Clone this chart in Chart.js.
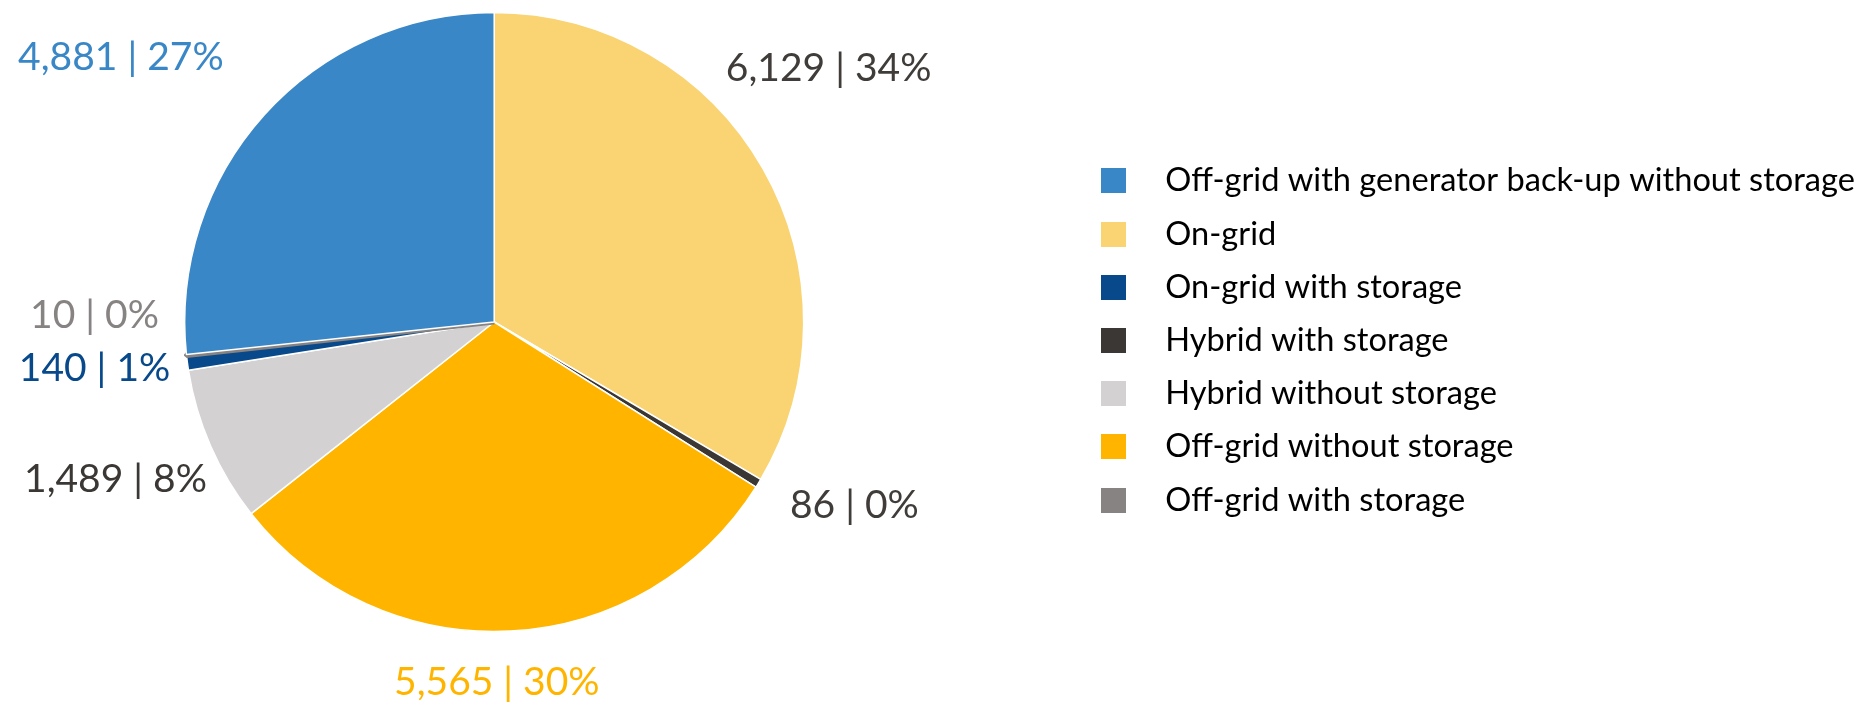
<!DOCTYPE html>
<html>
<head>
<meta charset="utf-8">
<script src="https://cdn.jsdelivr.net/npm/chart.js@4.4.1/dist/chart.umd.min.js"></script>
<style>
  html, body { margin:0; padding:0; background:#fff; width:1872px; height:704px; overflow:hidden; }
  #wrap { position:absolute; left:-100px; top:0; width:2000px; height:704px; }
</style>
</head>
<body>
<div id="wrap"><canvas id="chartPie"></canvas></div>
<script>
// slices in drawing order, clockwise from 12 o'clock
const LABELS = [
  "On-grid",
  "Hybrid with storage",
  "Off-grid without storage",
  "Hybrid without storage",
  "On-grid with storage",
  "Off-grid with storage",
  "Off-grid with generator back-up without storage"
];
const VALUES = [6129, 86, 5565, 1489, 140, 10, 4881];
const PERCENTS = [34, 0, 30, 8, 1, 0, 27];   // as printed on the chart

const LEGEND_ORDER = [
  "Off-grid with generator back-up without storage",
  "On-grid",
  "On-grid with storage",
  "Hybrid with storage",
  "Hybrid without storage",
  "Off-grid without storage",
  "Off-grid with storage"
];

const COLORS = ["#FAD473", "#3B3735", "#FFB500", "#D3D1D2", "#07498A", "#868382", "#3A87C7"];
const LABEL_COLORS = ["#403C39", "#403C39", "#FFB500", "#3B3735", "#07498A", "#868382", "#3A87C7"];
// the tiny grey slice keeps a stroke in its own colour so it stays visible
const TOTAL = VALUES.reduce((s,v)=>s+v,0);
const BORDER_COLORS = COLORS.map((c, i) => VALUES[i] / TOTAL < 0.002 ? c : "#ffffff");
const BORDER_WIDTHS = COLORS.map((c, i) => VALUES[i] / TOTAL < 0.002 ? 5 : 1.5);

const LEGEND_FONT = 32.6;
const SWATCH_W = 48;
const LEGEND_X = 1201;      // left edge of legend swatches, canvas px
const CANVAS_W = 2000;

function swatch(color){
  const c = document.createElement("canvas");
  c.width = SWATCH_W; c.height = 25;
  const g = c.getContext("2d");
  g.fillStyle = color;
  g.fillRect(0, 0, 25, 25);
  return c;
}

// right padding so the legend starts where the reference has it
function legendRightPad(){
  const g = document.createElement("canvas").getContext("2d");
  g.font = `${LEGEND_FONT}px Lato`;
  const tw = Math.max(...LEGEND_ORDER.map(t => g.measureText(t).width));
  const legendW = 23 + SWATCH_W + LEGEND_FONT/2 + tw + 10;
  return CANVAS_W - (LEGEND_X - 23) - legendW;
}

// value | percent labels outside each slice
const sliceLabels = {
  id: "sliceLabels",
  afterDatasetsDraw(chart, args, opts){
    const ctx = chart.ctx;
    const meta = chart.getDatasetMeta(0);
    ctx.save();
    ctx.font = `${opts.size}px Lato`;
    ctx.textAlign = "center";
    ctx.textBaseline = "alphabetic";
    meta.data.forEach((arc, i) => {
      const p = arc.getProps(["x","y","startAngle","endAngle","outerRadius"], true);
      const mid = (p.startAngle + p.endAngle) / 2, c = Math.cos(mid), s = Math.sin(mid);
      const txt = VALUES[i].toLocaleString("en-US") + " | " + PERCENTS[i] + "%";
      const w = ctx.measureText(txt).width, h = opts.size * 0.72;
      const d = p.outerRadius + opts.gap;
      const n = opts.nudge[i] || [0, 0];
      const cx = p.x + d*c + w/2*c + n[0];
      const cy = p.y + d*s + h/2*s + n[1];
      ctx.fillStyle = LABEL_COLORS[i];
      ctx.fillText(txt, cx, cy + h/2);
    });
    ctx.restore();
  }
};

new Chart(document.getElementById("chartPie"), {
  type: "pie",
  data: {
    labels: LABELS,
    datasets: [{ data: VALUES, backgroundColor: COLORS, borderColor: BORDER_COLORS, borderWidth: BORDER_WIDTHS }]
  },
  options: {
    responsive: true,
    maintainAspectRatio: false,
    animation: false,
    layout: { padding: { left: 8, right: legendRightPad(), top: 10, bottom: 70 } },
    plugins: {
      tooltip: { enabled: false },
      legend: {
        position: "right",
        align: "start",
        title: { display: true, text: "", font: { size: 12, lineHeight: 1 }, padding: { top: 122, bottom: 0 } },
        labels: {
          usePointStyle: true,
          pointStyleWidth: SWATCH_W,
          boxHeight: 25,
          padding: 20.6,
          color: "#000000",
          font: { family: "Lato", size: LEGEND_FONT },
          generateLabels(chart){
            return LEGEND_ORDER.map(name => {
              const i = LABELS.indexOf(name);
              return { text: name, fillStyle: COLORS[i], strokeStyle: COLORS[i], lineWidth: 0,
                       fontColor: "#000000", pointStyle: swatch(COLORS[i]), hidden: false, index: i };
            });
          }
        }
      },
      sliceLabels: {
        size: 39,
        gap: 20,
        nudge: [[-41,-85],[24,3],[-20,16],[7,18],[2,0],[-8,-45],[-52,-36]]
      }
    }
  },
  plugins: [sliceLabels]
});
</script>
</body>
</html>
